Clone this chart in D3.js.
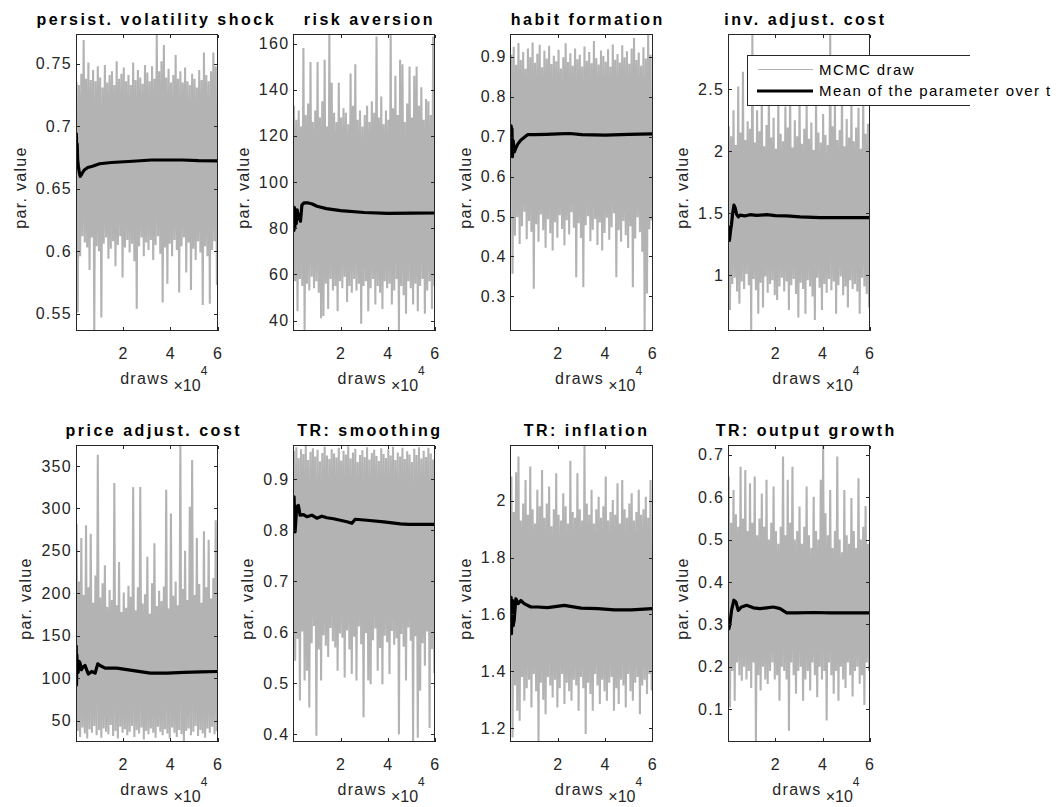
<!DOCTYPE html>
<html>
<head>
<meta charset="utf-8">
<script src="https://cdn.jsdelivr.net/npm/d3@7"></script>
<style>
  body { margin: 0; background: #fff; }
  svg { display: block; }
</style>
</head>
<body>
<svg id="chart" width="1059" height="807"></svg>
<script>
// ---- data -------------------------------------------------------------
const titles = [
  "persist. volatility shock", "risk aversion", "habit formation", "inv. adjust. cost",
  "price adjust. cost", "TR: smoothing", "TR: inflation", "TR: output growth"
];
const totalDraws = 60000;
const blockSize = 1000;               // each high/low pair summarises 1000 draws
const xTicks = [20000, 40000, 60000];
const xTickLabels = ["2", "4", "6"];

const yTicks = [
  [0.55, 0.6, 0.65, 0.7, 0.75],
  [40, 60, 80, 100, 120, 140, 160],
  [0.3, 0.4, 0.5, 0.6, 0.7, 0.8, 0.9],
  [1, 1.5, 2, 2.5],
  [50, 100, 150, 200, 250, 300, 350],
  [0.4, 0.5, 0.6, 0.7, 0.8, 0.9],
  [1.2, 1.4, 1.6, 1.8, 2],
  [0.1, 0.2, 0.3, 0.4, 0.5, 0.6, 0.7]
];

// MCMC trace: highest and lowest draw in each block of 1000 draws
const persistHigh = [0.735,0.733,0.742,0.769,0.738,0.751,0.737,0.745,0.736,0.748, 0.739,0.731,0.749,0.735,0.741,0.744,0.733,0.752,0.738,0.742, 0.747,0.736,0.741,0.733,0.751,0.737,0.745,0.739,0.734,0.749, 0.743,0.736,0.748,0.738,0.7735,0.744,0.752,0.765,0.739,0.746, 0.735,0.741,0.757,0.738,0.744,0.735,0.747,0.736,0.733,0.742, 0.738,0.731,0.745,0.737,0.759,0.741,0.736,0.744,0.759,0.748];
const persistLow  = [0.551,0.596,0.612,0.607,0.603,0.585,0.611,0.5365,0.604,0.600, 0.547,0.606,0.611,0.594,0.602,0.608,0.588,0.605,0.612,0.579, 0.603,0.609,0.599,0.606,0.592,0.554,0.604,0.611,0.596,0.607, 0.601,0.609,0.593,0.605,0.612,0.598,0.559,0.603,0.574,0.606, 0.596,0.609,0.601,0.567,0.604,0.611,0.583,0.607,0.569,0.602, 0.593,0.608,0.599,0.557,0.604,0.596,0.558,0.601,0.608,0.573];

const riskHigh = [133,127,131,124,158,129,134,152,126,131, 152,128,135,153,124,163.9,143,130,126,143, 128,132,130,125,147,133,151,127,131,124, 129,133,126,135,130,163,128,137,125,131, 127,163.9,132,146,129,153,151,126,134,150, 128,146,150,133,141,127,136,135,129,163];
const riskLow  = [57,44,58,55,35.7,56,53,59,54,57, 52,41,42,56,45,58,53,55,44,57, 54,59,48,55,52,58,53,56,38.6,55, 57,44,54,58,47,55,52,45,57,54, 56,47,53,58,35.7,55,51,43,57,54, 47,56,44,55,58,43,53,57,45,55];

const habitHigh = [0.905,0.925,0.880,0.935,0.892,0.912,0.870,0.921,0.899,0.936, 0.885,0.908,0.930,0.874,0.915,0.896,0.928,0.882,0.903,0.889, 0.918,0.871,0.899,0.934,0.887,0.909,0.878,0.921,0.894,0.905, 0.876,0.926,0.890,0.912,0.884,0.940,0.897,0.881,0.916,0.902, 0.888,0.919,0.875,0.931,0.893,0.907,0.886,0.929,0.899,0.914, 0.883,0.921,0.947,0.892,0.911,0.878,0.924,0.896,0.956,0.905];
const habitLow  = [0.357,0.452,0.498,0.431,0.476,0.512,0.443,0.489,0.462,0.319, 0.481,0.437,0.505,0.466,0.422,0.493,0.458,0.415,0.486,0.447, 0.503,0.469,0.428,0.491,0.455,0.511,0.472,0.348,0.483,0.446, 0.323,0.478,0.501,0.438,0.467,0.494,0.429,0.485,0.415,0.459, 0.497,0.442,0.473,0.508,0.348,0.466,0.437,0.489,0.453,0.421, 0.476,0.323,0.445,0.498,0.461,0.412,0.2146,0.307,0.468,0.490];

const invHigh = [2.20,2.12,2.33,2.05,2.52,2.15,2.64,2.09,2.24,2.18, 2.94,2.07,2.33,2.16,2.45,2.04,2.21,2.48,2.11,2.27, 2.02,2.42,2.14,2.08,2.36,2.19,2.55,2.03,2.25,2.12, 2.47,2.06,2.18,2.39,2.10,2.23,2.01,2.44,2.15,2.07, 2.30,2.13,2.05,2.94,2.20,2.41,2.09,2.17,2.52,2.04, 2.26,2.11,2.43,2.08,2.19,2.35,2.02,2.46,2.14,2.22];
const invLow  = [0.72,0.93,0.98,0.87,0.77,0.95,0.89,1.01,0.92,0.555, 0.97,0.88,0.69,0.94,0.74,0.99,0.86,0.93,0.96,0.84, 0.80,0.91,0.98,0.87,0.95,0.72,0.92,0.97,0.85,0.66, 0.94,0.89,0.69,0.96,0.91,0.83,0.64,0.98,0.90,0.72, 0.93,0.86,0.97,0.88,0.95,0.69,0.92,0.99,0.84,0.91, 0.74,0.96,0.89,0.93,0.87,0.69,0.98,0.91,0.85,0.74];

const priceHigh = [282,214,265,198,280,207,270,189,221,363, 195,212,233,184,204,192,330,186,237,178, 201,183,209,196,325,180,207,325,188,199, 243,176,212,259,185,203,191,208,322,182, 294,197,214,186,374,205,250,192,302,357, 198,265,211,189,273,207,263,194,218,286];
const priceLow  = [38,31,42,35,29,40,36,44,33,39, 30,41,37,34,45,32,38,29,43,36, 40,33,37,44,31,39,35,42,28,38, 34,41,36,30,43,37,33,40,35,29, 42,36,31,39,34,25.6,38,41,33,37, 44,32,39,35,30,41,36,43,34,38];

const smoothHigh = [0.955,0.962,0.941,0.958,0.949,0.9655,0.937,0.953,0.960,0.944, 0.957,0.934,0.951,0.963,0.946,0.939,0.958,0.950,0.942,0.961, 0.936,0.955,0.948,0.964,0.940,0.952,0.959,0.933,0.947,0.956, 0.943,0.962,0.938,0.951,0.957,0.945,0.935,0.960,0.949,0.941, 0.958,0.946,0.963,0.937,0.952,0.944,0.961,0.939,0.954,0.948, 0.933,0.959,0.947,0.962,0.940,0.955,0.943,0.961,0.950,0.938];
const smoothLow  = [0.544,0.587,0.466,0.601,0.505,0.524,0.452,0.578,0.612,0.397, 0.566,0.505,0.594,0.573,0.551,0.608,0.582,0.570,0.524,0.597, 0.589,0.511,0.603,0.566,0.518,0.591,0.505,0.611,0.576,0.433, 0.598,0.505,0.498,0.584,0.607,0.524,0.569,0.498,0.593,0.580, 0.518,0.602,0.575,0.588,0.400,0.596,0.571,0.505,0.609,0.583, 0.3856,0.592,0.393,0.485,0.578,0.534,0.601,0.412,0.567,0.520];

const inflHigh = [2.085,1.96,2.10,2.155,1.93,1.99,2.073,1.95,2.12,1.97, 1.92,2.038,1.98,2.108,1.94,1.99,2.05,1.91,1.97,2.096, 1.95,1.93,2.026,1.98,1.92,2.14,1.96,1.94,2.096,1.97, 1.93,2.194,1.99,1.95,2.038,1.92,1.97,2.014,1.94,1.98, 2.085,1.93,1.96,2.002,1.95,2.061,1.92,2.073,1.97,1.94, 1.99,2.026,1.93,1.96,2.038,1.95,1.97,2.014,1.94,2.073];
const inflLow  = [1.167,1.35,1.261,1.226,1.38,1.296,1.34,1.37,1.273,1.39, 1.33,1.153,1.36,1.30,1.249,1.38,1.35,1.308,1.37,1.273, 1.34,1.39,1.285,1.36,1.33,1.296,1.37,1.35,1.261,1.38, 1.34,1.179,1.36,1.32,1.261,1.39,1.35,1.285,1.37,1.33, 1.296,1.36,1.38,1.261,1.34,1.285,1.37,1.35,1.273,1.39, 1.33,1.296,1.36,1.38,1.249,1.35,1.37,1.32,1.39,1.332];

const growthHigh = [0.649,0.54,0.617,0.56,0.53,0.672,0.55,0.664,0.52,0.633, 0.54,0.649,0.51,0.55,0.609,0.53,0.641,0.50,0.54,0.625, 0.52,0.49,0.53,0.696,0.51,0.641,0.54,0.672,0.50,0.52, 0.578,0.49,0.53,0.625,0.51,0.48,0.601,0.52,0.50,0.641, 0.722,0.562,0.51,0.617,0.48,0.52,0.696,0.50,0.47,0.617, 0.51,0.49,0.598,0.52,0.48,0.645,0.50,0.53,0.579,0.49];
const growthLow  = [0.104,0.19,0.12,0.21,0.18,0.167,0.20,0.17,0.19,0.15, 0.21,0.0236,0.18,0.144,0.20,0.17,0.159,0.19,0.21,0.17, 0.18,0.12,0.20,0.19,0.17,0.049,0.21,0.18,0.136,0.19, 0.20,0.12,0.17,0.19,0.144,0.21,0.18,0.128,0.20,0.17, 0.19,0.073,0.21,0.18,0.136,0.19,0.12,0.20,0.17,0.15, 0.21,0.18,0.13,0.19,0.20,0.16,0.18,0.11,0.21,0.19];

// running mean of each parameter: draw number and mean value
const persistMeanAt = [1,150,300,500,700,1000,1400,1800,2500,3500,5000,7000,10000,15000,24000,32000,38000,45000,52000,60000];
const persistMean   = [0.688,0.694,0.680,0.686,0.673,0.668,0.663,0.660,0.662,0.665,0.667,0.668,0.670,0.671,0.672,0.673,0.673,0.673,0.6725,0.6723];
const riskMeanAt = [1,200,400,600,900,1200,1600,2000,2500,3000,3600,4500,6000,8000,10000,14000,20000,30000,40000,50000,60000];
const riskMean   = [88,79,89,80,87,82,88,84,86,83,90,91,91,90.5,89.5,88.5,87.6,86.8,86.4,86.5,86.6];
const habitMeanAt = [1,150,300,500,700,1000,1500,2100,3000,4300,7100,10000,15000,20000,25000,30000,40000,50000,60000];
const habitMean   = [0.70,0.727,0.66,0.72,0.65,0.69,0.662,0.671,0.682,0.692,0.705,0.705,0.706,0.707,0.708,0.705,0.704,0.706,0.707];
const invMeanAt = [1,150,300,500,720,1000,1400,1900,2430,3000,3570,4300,5000,7000,9200,12000,16300,20000,24800,30500,39000,50000,60000];
const invMean   = [1.40,1.30,1.38,1.28,1.31,1.36,1.41,1.50,1.565,1.54,1.49,1.47,1.484,1.478,1.488,1.482,1.488,1.480,1.478,1.47,1.465,1.464,1.465];
const priceMeanAt = [1,100,200,350,550,900,1300,1700,2300,2840,3830,5250,6670,8090,9220,10200,12340,17300,24400,31500,38600,45700,52800,60000];
const priceMean   = [120,138,92,128,113,107,120,118,110,113,115,105,108,106,117,115,112,112,109,106,106,107,107.5,108];
const smoothMeanAt = [1,280,710,1420,2130,2840,4260,5670,7800,9930,12060,14200,17000,22700,24800,26200,31200,38300,45400,48900,60000];
const smoothMean   = [0.83,0.865,0.796,0.846,0.848,0.829,0.83,0.826,0.829,0.823,0.827,0.824,0.822,0.816,0.813,0.821,0.819,0.816,0.812,0.811,0.811];
const inflMeanAt = [1,120,280,500,710,1000,1420,1800,2130,3120,4260,5670,8510,11350,15600,22700,29800,36900,43960,51060,60000];
const inflMean   = [1.60,1.66,1.532,1.60,1.649,1.56,1.579,1.62,1.655,1.638,1.649,1.638,1.626,1.626,1.624,1.632,1.622,1.62,1.616,1.616,1.62];
const growthMeanAt = [1,300,710,1420,2410,3260,4250,5670,7800,10640,13480,16300,19150,22000,24800,29100,36200,43300,52000,60000];
const growthMean   = [0.31,0.29,0.30,0.333,0.357,0.353,0.333,0.341,0.345,0.339,0.337,0.339,0.341,0.337,0.327,0.327,0.328,0.327,0.327,0.327];

const legendLabels = ["MCMC draw", "Mean of the parameter over t"];

const panels = [
  { high: persistHigh, low: persistLow, meanAt: persistMeanAt, mean: persistMean },
  { high: riskHigh,    low: riskLow,    meanAt: riskMeanAt,    mean: riskMean },
  { high: habitHigh,   low: habitLow,   meanAt: habitMeanAt,   mean: habitMean },
  { high: invHigh,     low: invLow,     meanAt: invMeanAt,     mean: invMean },
  { high: priceHigh,   low: priceLow,   meanAt: priceMeanAt,   mean: priceMean },
  { high: smoothHigh,  low: smoothLow,  meanAt: smoothMeanAt,  mean: smoothMean },
  { high: inflHigh,    low: inflLow,    meanAt: inflMeanAt,    mean: inflMean },
  { high: growthHigh,  low: growthLow,  meanAt: growthMeanAt,  mean: growthMean }
];

// ---- layout -----------------------------------------------------------
const colLeft = [76, 293.4, 510.8, 728.2];
const rowTop = [34.5, 445.5];
const panelW = 141.5, panelH = 296;
const axisColor = "#262626";
const drawColor = "#b3b3b3";
const font = '"Liberation Sans", Arial, Helvetica, sans-serif';

const svg = d3.select("#chart").attr("font-family", font);
const defs = svg.append("defs");

panels.forEach((p, i) => {
  const left = colLeft[i % 4];
  const top = rowTop[Math.floor(i / 4)];
  const right = left + panelW, bottom = top + panelH;

  const trace = [];
  p.high.forEach((v, k) => {
    trace.push({ d: k * blockSize + blockSize / 4, v: v });
    trace.push({ d: k * blockSize + 3 * blockSize / 4, v: p.low[k] });
  });
  const meanPts = p.meanAt.map((d, j) => ({ d: d, v: p.mean[j] }));

  const x = d3.scaleLinear().domain([1, totalDraws]).range([left, right]);
  const y = d3.scaleLinear().domain(d3.extent(trace, d => d.v)).range([bottom, top]);

  const g = svg.append("g");
  defs.append("clipPath").attr("id", "clip" + i)
    .append("rect").attr("x", left).attr("y", top).attr("width", panelW).attr("height", panelH);

  const plot = g.append("g").attr("clip-path", `url(#clip${i})`);
  const line = d3.line().x(d => x(d.d)).y(d => y(d.v));

  plot.append("path").datum(trace)
    .attr("d", line)
    .attr("fill", "none")
    .attr("stroke", drawColor)
    .attr("stroke-width", 2.1)
    .attr("stroke-linejoin", "miter")
    .attr("stroke-miterlimit", 1);

  plot.append("path").datum(meanPts)
    .attr("d", line)
    .attr("fill", "none")
    .attr("stroke", "#000")
    .attr("stroke-width", 3.2)
    .attr("stroke-linejoin", "round");

  // axes: ticks point inward on all four sides
  const fmt = d => String(+d.toFixed(2));
  const yLeft = g.append("g").attr("transform", `translate(${left},0)`)
    .call(d3.axisLeft(y).tickValues(yTicks[i]).tickFormat(fmt).tickSizeInner(-3.5).tickSizeOuter(0).tickPadding(5));
  const yRight = g.append("g").attr("transform", `translate(${right},0)`)
    .call(d3.axisRight(y).tickValues(yTicks[i]).tickFormat("").tickSizeInner(-3.5).tickSizeOuter(0));
  const xBottom = g.append("g").attr("transform", `translate(0,${bottom})`)
    .call(d3.axisBottom(x).tickValues(xTicks).tickFormat((d, j) => xTickLabels[j]).tickSizeInner(-3.5).tickSizeOuter(0).tickPadding(17.6));
  const xTop = g.append("g").attr("transform", `translate(0,${top})`)
    .call(d3.axisTop(x).tickValues(xTicks).tickFormat("").tickSizeInner(-3.5).tickSizeOuter(0));

  [yLeft, yRight, xBottom, xTop].forEach(a => {
    a.select(".domain").remove();
    a.selectAll("line").attr("stroke", axisColor).attr("shape-rendering", "crispEdges");
    a.selectAll("text")
      .attr("fill", axisColor)
      .attr("font-family", font)
      .attr("font-size", 16)
      .attr("letter-spacing", "1.3px");
  });
  yLeft.selectAll("text").attr("x", -4);

  g.append("rect")
    .attr("x", left).attr("y", top).attr("width", panelW).attr("height", panelH)
    .attr("fill", "none").attr("stroke", axisColor).attr("stroke-width", 1)
    .attr("shape-rendering", "crispEdges");

  // y label, placed just outside the widest tick label
  let maxW = 0;
  yLeft.selectAll("text").each(function () { maxW = Math.max(maxW, this.getBBox().width); });
  g.append("text")
    .attr("transform", `translate(${left - 5 - maxW - 9},${(top + bottom) / 2 + 5}) rotate(-90)`)
    .attr("text-anchor", "middle")
    .attr("font-size", 16)
    .attr("letter-spacing", "1.3px")
    .attr("fill", axisColor)
    .text("par. value");

  // x label and exponent
  g.append("text")
    .attr("x", (left + right) / 2 - 2).attr("y", bottom + 53)
    .attr("text-anchor", "middle")
    .attr("font-size", 16)
    .attr("letter-spacing", "1.3px")
    .attr("fill", axisColor)
    .text("draws");
  const ex = g.append("text")
    .attr("x", right - 44).attr("y", bottom + 60)
    .attr("text-anchor", "start")
    .attr("font-size", 16)
    .attr("fill", axisColor);
  ex.append("tspan").text("\u00d710");
  ex.append("tspan").attr("dy", -16).attr("font-size", 12).text("4");

  // title
  const t = g.append("text")
    .attr("y", top - 9.5)
    .attr("font-size", 16)
    .attr("font-weight", "bold")
    .attr("letter-spacing", "2.5px")
    .attr("fill", "#000")
    .text(titles[i]);
  const L = t.node().getComputedTextLength();
  t.attr("x", (left + right) / 2 - 0.46 * L);
});

// ---- legend ------------------------------------------------------------
const lg = svg.append("g");
const lx0 = 747.3, lx1 = 970, ly0 = 55, ly1 = 105.7;
lg.append("rect").attr("x", lx0).attr("y", ly0).attr("width", lx1 - lx0).attr("height", ly1 - ly0)
  .attr("fill", "#fff");
lg.append("path")
  .attr("d", `M${lx1},${ly0}H${lx0}V${ly1}H${lx1}`)
  .attr("fill", "none").attr("stroke", axisColor).attr("stroke-width", 1)
  .attr("shape-rendering", "crispEdges");
lg.append("line").attr("x1", 758).attr("x2", 813).attr("y1", 69.5).attr("y2", 69.5)
  .attr("stroke", drawColor).attr("stroke-width", 1);
lg.append("line").attr("x1", 757).attr("x2", 813).attr("y1", 91).attr("y2", 91)
  .attr("stroke", "#000").attr("stroke-width", 3.2);
lg.selectAll("text.lab").data(legendLabels).enter().append("text")
  .attr("class", "lab")
  .attr("x", 819).attr("y", (d, j) => j === 0 ? 74.5 : 96)
  .attr("font-size", 15)
  .attr("letter-spacing", "1.4px")
  .attr("fill", "#000")
  .text(d => d);
</script>
</body>
</html>
